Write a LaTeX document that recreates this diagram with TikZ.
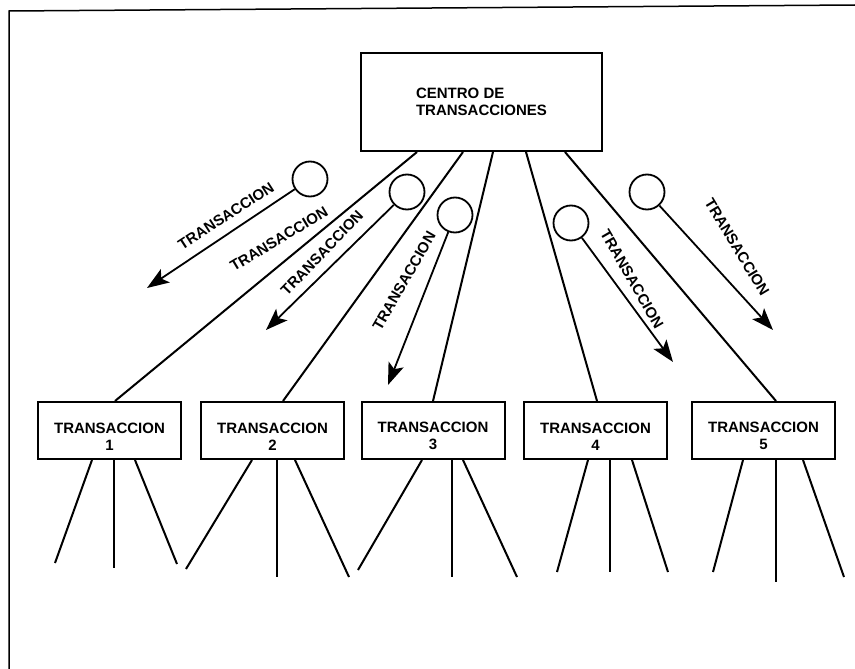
\documentclass[tikz,border=0pt]{standalone}
\usepackage{fontspec}
\setmainfont{Liberation Sans}
\usetikzlibrary{arrows.meta}
\newcommand{\labelfont}{\fontsize{15}{17}\selectfont\bfseries}
\tikzset{
  unit/.style={draw, line width=2pt, minimum width=143pt, minimum height=57pt, text height=39pt, align=center, inner sep=0pt, font=\labelfont},
  hub/.style={draw, line width=2pt, minimum width=241pt, minimum height=98pt, align=left, font=\labelfont},
  ball/.style={draw, circle, line width=1.8pt, minimum size=35pt, inner sep=0pt},
  flow/.style={line width=1.8pt, -{Stealth[length=22pt,width=16pt,inset=5pt]}},
  link/.style={line width=2pt},
  tag/.style={font=\labelfont, inner sep=0pt},
}

\begin{document}
\begin{tikzpicture}[x=1pt,y=-1pt]
	\useasboundingbox (0,0) rectangle (855,669);
	\draw[line width=1.5pt] (855,5) -- (9,11) -- (9,669);

	\node[hub] (centro) at (481.5,102) {CENTRO DE\\TRANSACCIONES};

	\foreach \i/\x in {1/109.5,2/272.5,3/433,4/595.5,5/763.5}
	{
		\node[unit] (t\i) at (\x,430.5) {TRANSACCION\\\i};
	}

	% centre to each transaction
	\foreach \i/\s/\e in {1/-64.5/5.5, 2/-18.5/10.5, 3/11.5/0, 4/44.5/1.5, 5/83.5/12.5}
	{
		\draw[link] ([xshift=\s pt]centro.south) -- ([xshift=\e pt]t\i.north);
	}

	% legs under each transaction
	\foreach \i/\k/\s/\e/\y in {1/a/-17.5/55/563, 1/b/4.5/114/568, 1/c/25.5/177/564,
		2/a/-20.5/186/569, 2/b/4.5/277/577, 2/c/22.5/349/577,
		3/a/-11/358/570, 3/b/19/452/577, 3/c/30/517/577,
		4/a/-7.5/557/572, 4/b/14.5/610/572, 4/c/36.5/668/572,
		5/a/-20.5/713/572, 5/b/12.5/776/582, 5/c/39.5/844/577}
	{
		\coordinate (t\i\k) at (\e,\y);
		\draw[link] ([xshift=\s pt]t\i.south) -- (t\i\k);
	}

	% transactions travelling
	\foreach \i/\bx/\by/\tx/\ty in {1/310/179/147/288, 2/407/192/266/330, 3/455/215/388/385, 4/571/223/673/362, 5/647/192/773/330}
	{
		\node[ball] (ball\i) at (\bx,\by) {};
		\coordinate (tip\i) at (\tx,\ty);
		\draw[flow] (ball\i) -- (tip\i);
	}

	\foreach \n/\x/\y/\r in {1/226/216/33, 2/279/239/31, 3/322/253/46, 4/404/281/60, 5/632/279/-60, 6/737/247/-59}
	{
		\node[tag, rotate=\r] (tag\n) at (\x,\y) {TRANSACCION};
	}

\end{tikzpicture}
\end{document}
